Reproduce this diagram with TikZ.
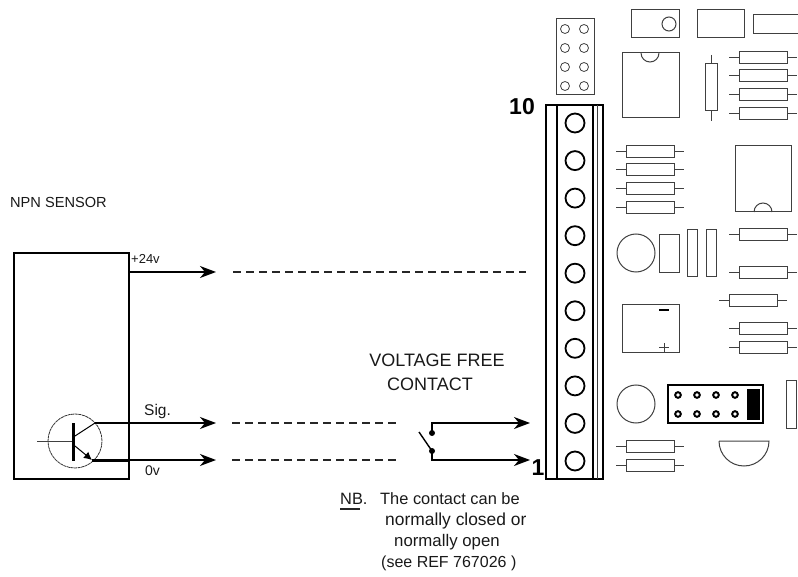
\documentclass[tikz,border=0pt]{standalone}
\usepackage{fontspec}
\setmainfont{Liberation Sans}
\usetikzlibrary{arrows.meta, positioning}

\tikzset{
    part/.style={draw=black!75, line width=1pt},
    wire/.style={black, line width=1.6pt},
    wirehead/.style={wire, -{Stealth[length=16pt, width=12pt, inset=5pt]}},
    dashwire/.style={black!85, line width=1.5pt, dash pattern=on 8pt off 5pt},
    blockline/.style={black, line width=2pt},
    label/.style={inner sep=0pt, text=black!90, font=\fontsize{#1}{#1}\selectfont},
    label/.default=12,
    bignum/.style={inner sep=0pt, font=\fontsize{23}{23}\selectfont\bfseries},
    contactdot/.style={circle, fill=black, inner sep=0pt, minimum size=6pt}
}

% horizontal resistor: left end of body, y
\newcommand{\resistor}[2]{
    \draw[part] (#1, #2-6) rectangle (#1+48, #2+6);
    \draw[part] (#1-10, #2) -- (#1, #2) (#1+48, #2) -- (#1+58, #2);
}

\begin{document}
\begin{tikzpicture}[x=1pt, y=-1pt]
            \useasboundingbox (0, 0) rectangle (798, 577);

            % sensor
            \node[label=14.6, anchor=west] (sensorname) at (10, 202) {NPN SENSOR};
            \node[draw, line width=1.8pt, minimum width=115pt, minimum height=226pt, inner sep=0pt] (sensor) at (71.5, 366) {};
            \node[draw=black!80, dash pattern=on 3pt off .6pt, circle, line width=.8pt, minimum size=54pt, inner sep=0pt] (transistor) at (75, 441) {};
            \coordinate (basein) at (37, 441);
            \coordinate (basebar) at (73, 441);
            \coordinate (barup) at (73, 423);
            \coordinate (bardown) at (73, 461);
            \coordinate (collector) at (95, 423);
            \coordinate (emitter) at (92, 460);
            \draw[part] (basein) -- (basebar);
            \draw[black, line width=3pt] (barup) -- (bardown);
            \draw[black, line width=1pt] (75, 436) -- (collector);
            \draw[black, line width=1pt, -{Latex[length=8pt, width=8pt]}] (75, 446) -- (emitter);

            % wires out of the sensor
            \coordinate (plusout) at (129, 272);
            \coordinate (plusend) at (216, 272);
            \coordinate (sigend) at (216, 423);
            \coordinate (zeroedge) at (129, 460);
            \coordinate (zeroend) at (216, 460);
            \draw[wirehead] (plusout) -- (plusend);
            \draw[wirehead] (collector) -- (sigend);
            \draw[black, line width=3pt] (emitter) -- (zeroedge);
            \draw[wirehead] (zeroedge) -- (zeroend);
            \node[label=13, anchor=west] (pluslabel) at (131, 259) {+24v};
            \node[label=15.5, anchor=west] (siglabel) at (144, 411) {Sig.};
            \node[label=14, anchor=west] (zerolabel) at (145, 471) {0v};

            % dashed runs
            \coordinate (plusdash) at (233, 272);
            \coordinate (plusdashend) at (526, 272);
            \coordinate (sigdash) at (232, 423);
            \coordinate (sigdashend) at (396, 423);
            \coordinate (zerodash) at (232, 460);
            \coordinate (zerodashend) at (396, 460);
            \draw[dashwire] (plusdash) -- (plusdashend);
            \draw[dashwire] (sigdash) -- (sigdashend);
            \draw[dashwire] (zerodash) -- (zerodashend);

            % contact
            \node[label=18] (voltfree) at (437, 360) {VOLTAGE FREE};
            \node[label=18] (contactname) at (430, 384) {CONTACT};
            \node[contactdot] (dotup) at (432, 433) {};
            \node[contactdot] (dotdown) at (432, 451) {};
            \coordinate (bladeend) at (419, 432);
            \coordinate (upend) at (530, 423);
            \coordinate (downend) at (530, 460);
            \draw[black, line width=1.4pt] (bladeend) -- (dotdown.center);
            \draw[wirehead] (dotup.center) |- (upend);
            \draw[wirehead] (dotdown.center) |- (downend);

            % note
            \node[label=16.4, anchor=west] (nbmark) at (340, 499) {NB.};
            \draw[black!85, line width=1.6pt] (340, 509) -- (360, 509);
            \node[label=16.4, anchor=west] (noteone) at (380, 499) {The contact can be};
            \node[label=17.4, anchor=west] (notetwo) at (385, 521) {normally closed or};
            \node[label=16.8, anchor=west] (notethree) at (394, 542) {normally open};
            \node[label=16, anchor=west] (notefour) at (381, 563) {(see REF 767026 )};

            % terminal block
            \draw[blockline] (546, 105) rectangle (603, 479);
            \draw[blockline] (557, 105) -- (557, 479);
            \draw[blockline] (593, 105) -- (593, 479);
            \draw[part] (597, 105) -- (597, 479);
            \foreach \y in {123, 160.6, 198.1, 235.7, 273.2, 310.8, 348.3, 385.9, 423.4, 461}
                \draw[black, line width=1.8pt] (575, \y) circle[radius=9.5pt];
            \node[bignum] (numten) at (522, 107) {10};
            \node[bignum] (numone) at (538, 468) {1};

            % header
            \draw[part] (556, 19) rectangle (594, 95);
            \foreach \y in {29, 48, 67, 86}
                \foreach \x in {565, 584}
                    \draw[part, line width=.8pt] (\x, \y) circle[radius=4.5pt];

            % top row
            \draw[part] (631, 10) rectangle (679, 38);
            \draw[part] (669, 24) circle[radius=7pt];
            \draw[part] (697, 10) rectangle (744, 38);
            \draw[part] (798, 15) -- (753, 15) -- (753, 34) -- (798, 34);

            % chips
            \draw[part] (622, 53) rectangle (679, 118);
            \draw[part] (641, 53) arc[start angle=180, end angle=360, radius=9pt];
            \draw[part] (735, 146) rectangle (791, 212);
            \draw[part] (754, 212) arc[start angle=180, end angle=0, radius=9pt];

            % vertical resistor
            \draw[part] (705, 64) rectangle (717, 111);
            \draw[part] (711, 55) -- (711, 64) (711, 111) -- (711, 121);

            % resistors
            \foreach \y in {58, 76, 95, 114, 235, 273, 329, 348} {
                \resistor{739}{\y}
            }
            \foreach \y in {152, 170, 189, 208, 446, 465} {
                \resistor{626}{\y}
            }
            \resistor{729}{301}

            % round parts and capacitors
            \draw[part] (636, 253) circle[radius=19pt];
            \draw[part] (659, 235) rectangle (679, 273);
            \draw[part] (687, 230) rectangle (697, 277);
            \draw[part] (706, 230) rectangle (716, 277);
            \draw[part] (622, 305) rectangle (679, 353);
            \draw[black, line width=1.2pt] (659, 310) -- (669, 310);
            \draw[part] (659, 348) -- (669, 348) (664, 343) -- (664, 353);
            \draw[part] (636, 404) circle[radius=19pt];
            \draw[part] (786, 380) rectangle (796, 428);
            \draw[part] (719, 441) -- (769, 441) arc[start angle=0, end angle=-180, radius=25pt];

            % dark connector
            \draw[black, line width=2pt] (668, 385) rectangle (763, 423);
            \fill[black] (747, 389) rectangle (760, 420);
            \foreach \y in {395, 414}
                \foreach \x in {678, 697, 716, 735}
                    \draw[black, line width=2pt] (\x, \y) circle[radius=2.8pt];
        \end{tikzpicture}
\end{document}
